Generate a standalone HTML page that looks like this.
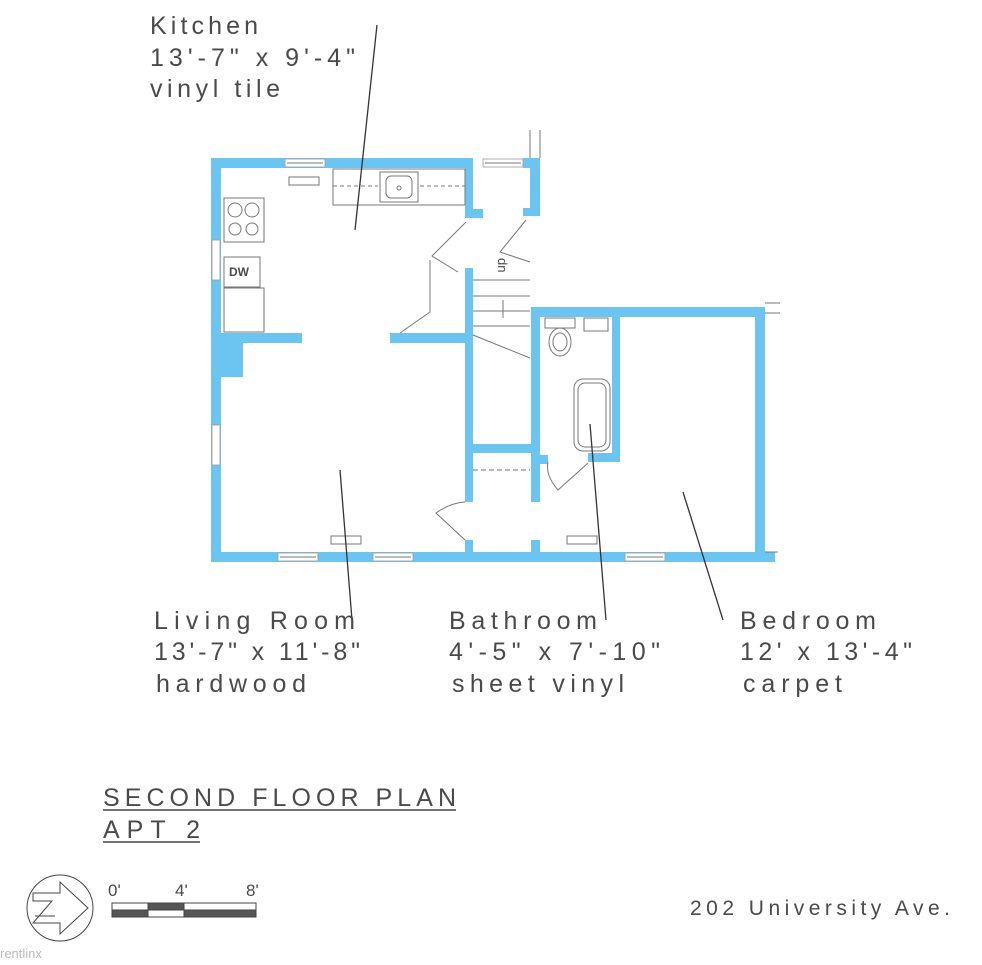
<!DOCTYPE html>
<html><head><meta charset="utf-8"><style>
html,body{margin:0;padding:0;background:#fff;}
svg text{font-family:"Liberation Sans",sans-serif;fill:#4a4a4a;}
</style></head><body>
<svg width="982" height="960" viewBox="0 0 982 960" xmlns="http://www.w3.org/2000/svg">
<rect width="982" height="960" fill="#fff"/>
<g fill="#6cc5f0">
<rect x="211" y="158" width="10" height="404"/>
<rect x="211" y="333" width="32" height="44"/>
<rect x="211" y="158" width="262" height="10"/>
<rect x="523" y="158" width="17" height="10"/>
<rect x="465" y="158" width="8" height="60"/>
<rect x="465" y="209" width="18" height="9"/>
<rect x="530" y="158" width="10" height="58"/>
<rect x="523" y="208" width="17" height="8"/>
<rect x="211" y="333" width="91" height="10"/>
<rect x="390" y="333" width="80" height="10"/>
<rect x="465" y="268" width="8" height="234"/>
<rect x="465" y="540" width="8" height="20"/>
<rect x="470" y="444" width="63" height="9"/>
<rect x="531" y="308" width="9" height="194"/>
<rect x="531" y="540" width="9" height="20"/>
<rect x="540" y="455" width="8" height="9"/>
<rect x="531" y="307" width="234" height="10"/>
<rect x="755" y="307" width="10" height="255"/>
<rect x="612" y="307" width="8" height="155"/>
<rect x="588" y="453" width="32" height="9"/>
<rect x="211" y="552" width="564" height="10"/>
</g>
<g fill="#fff" stroke="#999" stroke-width="0.8">
<rect x="285" y="159" width="40" height="8"/>
<rect x="483" y="159" width="40" height="8"/>
<rect x="212" y="240" width="8" height="40"/>
<rect x="212" y="425" width="8" height="40"/>
<rect x="278" y="553" width="40" height="8"/>
<rect x="373" y="553" width="40" height="8"/>
<rect x="625" y="553" width="40" height="8"/>
</g>
<g fill="none" stroke="#777" stroke-width="1">
<line x1="287" y1="163" x2="323" y2="163"/><line x1="485" y1="163" x2="521" y2="163"/>
<line x1="280" y1="557" x2="316" y2="557"/><line x1="375" y1="557" x2="411" y2="557"/><line x1="627" y1="557" x2="663" y2="557"/>
<line x1="530" y1="130" x2="530" y2="158"/><line x1="540" y1="130" x2="540" y2="158"/>
<line x1="765" y1="303" x2="780" y2="303"/><line x1="765" y1="313" x2="780" y2="313"/>
<line x1="765" y1="552" x2="778" y2="552"/>
<rect x="333" y="169" width="132" height="36"/>
<line x1="333" y1="186" x2="378" y2="186" stroke-dasharray="4,3"/>
<line x1="420" y1="186" x2="465" y2="186" stroke-dasharray="4,3"/>
<rect x="380" y="172" width="38" height="30"/>
<rect x="386" y="176" width="26" height="22" rx="5"/>
<circle cx="399" cy="188" r="2"/>
<rect x="289" y="177" width="30" height="8"/>
<rect x="331" y="536" width="30" height="8"/>
<rect x="567" y="536" width="30" height="8"/>
<rect x="224" y="198" width="40" height="44"/>
<circle cx="235" cy="210" r="7"/><circle cx="252" cy="210" r="7"/>
<circle cx="235" cy="229" r="6"/><circle cx="252" cy="229" r="6"/>
<rect x="224" y="257" width="36" height="30"/>
<rect x="224" y="288" width="40" height="44"/>
<path d="M466 222 L432 256 L458 272"/>
<path d="M430 260 L430 312 L400 333"/>
<path d="M526 220 L500 252 L530 262"/>
<path d="M473 280 L530 280 M473 296 L530 296 M473 311 L530 311 M473 326 L530 326"/>
<path d="M473 335 L530 358"/>
<line x1="503" y1="300" x2="503" y2="318"/>
<path d="M473 470 L530 470" stroke-dasharray="5,3"/>
<path d="M465 540 L436 513 Q450 503 465 502"/>
<path d="M588 463 L558 490 Q545 475 548 462"/>
<rect x="545" y="318" width="30" height="10"/>
<ellipse cx="560" cy="342" rx="11" ry="14"/><ellipse cx="560" cy="342" rx="7" ry="9"/>
<rect x="584" y="318" width="24" height="13"/>
<rect x="574" y="379" width="36" height="72" rx="9"/>
<rect x="578" y="383" width="28" height="64" rx="7"/>
<circle cx="60" cy="908" r="33" stroke="#444"/>
<path d="M33 893 L60 893 L60 882 L88 908 L60 934 L60 923 L33 923 L52 901 L33 901 Z M35 916 L55 916" stroke="#444"/>
</g>
<text x="229" y="276" font-size="12" font-weight="bold">DW</text>
<text x="0" y="0" font-size="13" transform="translate(498,258) rotate(90)">dn</text>
<g stroke="#333" stroke-width="1.3">
<line x1="377" y1="25" x2="355" y2="230"/>
<line x1="340" y1="470" x2="352" y2="620"/>
<line x1="590" y1="424" x2="606" y2="620"/>
<line x1="683" y1="492" x2="723" y2="620"/>
</g>
<g font-size="25" lengthAdjust="spacing">
<text x="150" y="34" textLength="108">Kitchen</text>
<text x="150" y="66" textLength="205">13'-7" x 9'-4"</text>
<text x="150" y="97" textLength="130">vinyl tile</text>
<text x="154" y="629" textLength="201">Living Room</text>
<text x="154" y="660" textLength="206">13'-7" x 11'-8"</text>
<text x="156" y="692" textLength="150">hardwood</text>
<text x="449" y="629" textLength="148">Bathroom</text>
<text x="449" y="660" textLength="211">4'-5" x 7'-10"</text>
<text x="452" y="692" textLength="172">sheet vinyl</text>
<text x="740" y="629" textLength="136">Bedroom</text>
<text x="740" y="660" textLength="172">12' x 13'-4"</text>
<text x="743" y="692" textLength="99">carpet</text>
<text x="103" y="806" textLength="353">SECOND FLOOR PLAN</text>
<text x="103" y="838" textLength="97">APT 2</text>
</g>
<line x1="103" y1="810" x2="456" y2="810" stroke="#444" stroke-width="1.5"/>
<line x1="103" y1="842" x2="200" y2="842" stroke="#444" stroke-width="1.5"/>
<text x="108" y="896" font-size="17">0'</text>
<text x="175" y="896" font-size="17">4'</text>
<text x="246" y="896" font-size="17">8'</text>
<g stroke="#444" stroke-width="1">
<rect x="112" y="903" width="144" height="14" fill="#fff"/>
<rect x="148" y="903" width="36" height="7" fill="#555"/>
<rect x="112" y="910" width="36" height="7" fill="#555"/>
<rect x="184" y="910" width="72" height="7" fill="#555"/>
</g>
<text x="690" y="915" font-size="21" textLength="260" lengthAdjust="spacing">202 University Ave.</text>
<text x="0" y="958" font-size="13" style="fill:#bbb">rentlinx</text>
</svg>
</body></html>
